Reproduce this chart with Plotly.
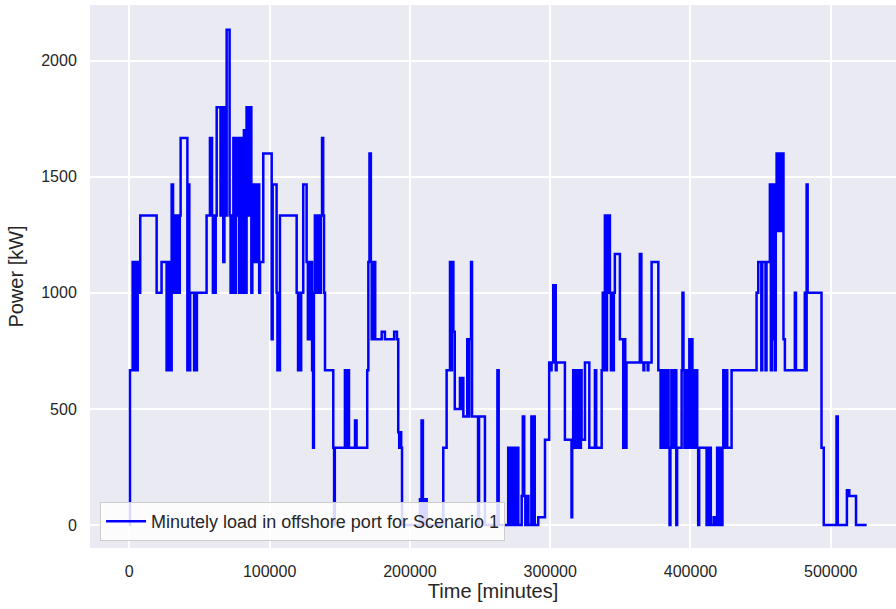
import plotly.graph_objects as go

# Load profile stored as step changes: time at which a level starts [min] and the level [kW]
step_start_min = [
    0, 500, 2400, 3000, 3600, 4200, 4800, 5400, 6000, 6400, 7800, 19500, 23000,
    26600, 27300, 28000, 28700, 29400, 30200, 31200, 31900, 32600, 33300, 34000,
    34700, 35400, 36000, 36600, 41400, 42000, 42800, 43400, 46200, 47000, 47600,
    48200, 55100, 57500, 59000, 59600, 60300, 61000, 61600, 62300, 65000, 65600,
    67000, 67800, 68500, 69400, 71500, 72200, 72900, 73600, 74200, 75200, 75900,
    77500, 78200, 78900, 80300, 81000, 81700, 82500, 83600, 85000, 85600, 87000,
    87700, 88400, 89100, 89800, 90500, 91200, 91900, 92600, 93200, 95500, 101500,
    102200, 105000, 105600, 106300, 107000, 107400, 119300, 120300, 121000, 121800,
    122500, 124000, 126400, 127300, 128000, 128800, 129500, 130300, 131000, 131600,
    132300, 133000, 133700, 134400, 135000, 135800, 136500, 137400, 138200, 138800,
    139500, 145400, 146000, 146500, 153700, 154400, 155100, 156600, 160900, 162000,
    169600, 170400, 171200, 172200, 172800, 173500, 174200, 174800, 175300, 179900,
    182200, 188800, 190800, 191700, 192400, 193100, 193800, 194400, 207200, 207800,
    208300, 209300, 209900, 210400, 211000, 211500, 212000, 223800, 226200, 228600,
    229400, 230000, 231000, 232000, 235700, 236600, 237300, 238100, 240900, 241600,
    242300, 243600, 244300, 248600, 249300, 253500, 262400, 263300, 270100, 271000,
    271800, 272600, 273400, 274200, 275000, 275800, 276600, 277300, 279700, 280500,
    281500, 282300, 283800, 284500, 286600, 287300, 288300, 289000, 291500, 296300,
    299300, 300300, 301000, 302200, 304000, 304600, 310500, 315200, 315700, 316400,
    317000, 317700, 318400, 319100, 319800, 320500, 321200, 321900, 322400, 324800,
    327900, 331900, 332800, 336700, 337500, 338300, 339000, 339800, 340500, 341200,
    342000, 342600, 343300, 344000, 344700, 345400, 346100, 349700, 352100, 352800,
    353500, 354400, 363900, 365000, 366500, 367100, 369500, 370000, 372300, 377100,
    378700, 379400, 380100, 380800, 381500, 382200, 383000, 383700, 384400, 385100,
    385700, 386400, 387100, 387800, 388500, 389300, 389900, 390500, 393700, 394300,
    395000, 395700, 396400, 397100, 397800, 398500, 399200, 400000, 400700, 401400,
    402100, 402800, 403500, 404200, 404800, 405500, 406200, 411500, 412300, 413000,
    413800, 414500, 416500, 418000, 419000, 419700, 420500, 421300, 422000, 422800,
    423400, 424400, 425300, 426200, 429300, 447100, 448300, 450500, 451200, 453500,
    454200, 456600, 457300, 458000, 458700, 459400, 460100, 460800, 461400, 462100,
    462800, 463500, 464200, 464900, 465600, 466300, 467300, 474400, 475200, 481500,
    482000, 482800, 483500, 493400, 495000, 504100, 505000, 511500, 513200, 518000,
    525600,
]

load_kw = [
    0, 667, 1133, 667, 1133, 667, 1133, 667, 1133, 1000, 1333, 1000, 1133,
    667, 1133, 667, 1133, 667, 1467, 1000, 1333, 1000, 1333, 1000,
    1333, 1000, 1333, 1667, 667, 1467, 667, 1000, 667, 1000, 667,
    1000, 1333, 1667, 1333, 1000, 1333, 1000, 1333, 1800, 1333, 1800,
    1133, 1800, 1333, 2133, 1333, 1000, 1333, 1000, 1667, 1000, 1667,
    1333, 1000, 1667, 1000, 1667, 1700, 1000, 1800, 1333, 1800, 1000,
    1467, 1133, 1467, 1133, 1467, 1133, 1467, 1000, 1133, 1600, 800,
    1467, 1000, 667, 1000, 667, 1333, 1000, 667, 1000, 667,
    1000, 1467, 1133, 800, 1133, 800, 1133, 667, 333, 1000,
    1333, 1000, 1333, 1000, 1333, 1000, 1333, 1667, 1333, 1000,
    667, 333, 0, 333, 667, 333, 667, 333, 450, 333,
    667, 1133, 1600, 1133, 800, 1133, 800, 1133, 800, 833,
    800, 833, 800, 400, 333, 400, 333, 0, 111, 0,
    450, 111, 0, 111, 0, 111, 0, 333, 667, 1133,
    667, 1133, 833, 500, 633, 500, 633, 467, 800, 467,
    800, 1133, 467, 0, 467, 0, 667, 0, 333, 0,
    333, 0, 333, 0, 333, 0, 333, 0, 125, 467,
    125, 0, 125, 0, 467, 0, 467, 0, 33, 367,
    700, 667, 700, 1033, 667, 700, 367, 33, 367, 667,
    333, 667, 333, 667, 333, 667, 333, 667, 367, 700,
    333, 667, 333, 667, 1000, 667, 1333, 667, 1333, 1000,
    1333, 1000, 667, 1000, 667, 1000, 1167, 800, 333, 800,
    333, 700, 1167, 700, 667, 700, 667, 700, 1133, 667,
    333, 667, 333, 667, 333, 667, 333, 667, 333, 0,
    333, 667, 333, 667, 333, 667, 0, 333, 667, 1000,
    667, 333, 667, 333, 667, 333, 800, 333, 800, 667,
    333, 667, 333, 667, 333, 0, 333, 0, 333, 0,
    333, 0, 33, 0, 333, 0, 33, 333, 0, 333,
    667, 333, 667, 333, 667, 1000, 1133, 667, 1133, 667,
    1133, 1467, 667, 1467, 800, 1467, 667, 1467, 1600, 1267,
    1600, 1267, 1600, 1267, 1600, 800, 667, 1000, 667, 1000,
    667, 1467, 1000, 333, 0, 467, 0, 150, 125, 0,
    0,
]

x_ticks = [0, 100000, 200000, 300000, 400000, 500000]
y_ticks = [0, 500, 1000, 1500, 2000]

text_color = "#262626"
font_family = "Arial, 'Liberation Sans', sans-serif"

fig = go.Figure()
fig.add_trace(go.Scatter(
    x=step_start_min,
    y=load_kw,
    mode="lines",
    line=dict(color="#0000ff", width=2.5, shape="hv"),
    name="Minutely load in offshore port for Scenario 1",
))

fig.update_layout(
    width=896,
    height=609,
    margin=dict(l=90, r=0, t=5, b=61),
    paper_bgcolor="white",
    plot_bgcolor="#eaeaf2",
    font=dict(family=font_family, size=16, color=text_color),
    showlegend=True,
    legend=dict(
        x=0.0125, y=0.013, xanchor="left", yanchor="bottom",
        bgcolor="rgba(255,255,255,0.85)",
        bordercolor="#cccccc", borderwidth=1,
        font=dict(size=18, color=text_color),
        itemwidth=40,
    ),
)

fig.update_xaxes(
    range=[-28000, 546500],
    tickvals=x_ticks,
    ticktext=[str(v) for v in x_ticks],
    showgrid=True, gridcolor="white", gridwidth=1.5,
    zeroline=False, showline=False,
    ticks="outside", ticklen=9, tickcolor="rgba(0,0,0,0)",
    tickfont=dict(size=16, color=text_color),
    title=dict(text="Time [minutes]", font=dict(size=20, color=text_color), standoff=4),
)

fig.update_yaxes(
    range=[-99, 2240],
    tickvals=y_ticks,
    ticktext=[str(v) for v in y_ticks],
    showgrid=True, gridcolor="white", gridwidth=1.5,
    zeroline=False, showline=False,
    ticks="outside", ticklen=9, tickcolor="rgba(0,0,0,0)",
    tickfont=dict(size=16, color=text_color),
    title=dict(text="Power [kW]", font=dict(size=20, color=text_color), standoff=12),
)

fig.write_html("out.html")
